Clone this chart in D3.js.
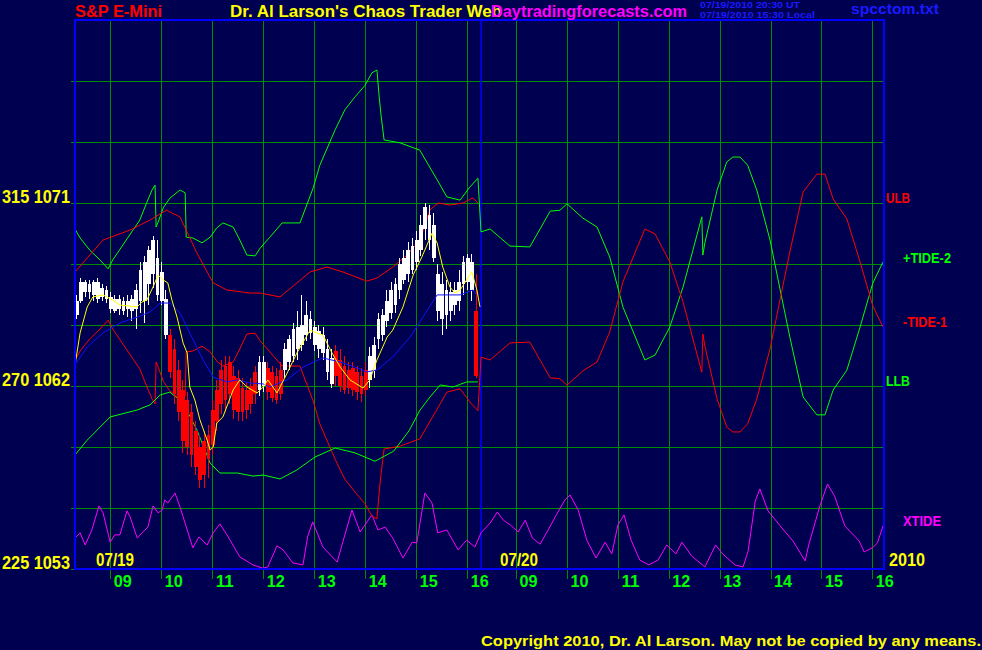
<!DOCTYPE html>
<html><head><meta charset="utf-8">
<script src="https://cdn.jsdelivr.net/npm/d3@7"></script>
<style>body{margin:0;background:#000050;}svg{display:block}</style>
</head><body>
<script>
// ---------------- DATA ----------------
const priceTicks = [1053, 1062, 1071];
const tideTicks = [225, 270, 315];
const gridPrices = [1056, 1059, 1062, 1065, 1068, 1071, 1074, 1077];
const hourTicks = [9, 10, 11, 12, 13, 14, 15, 16];
const hourLabels = ["09","10","11","12","13","14","15","16"];
const dayLabels = ["07/19", "07/20"];
const yearLabel = "2010";

// 5-minute bars, 07/19: [time, open, high, low, close, colour]
const bars = [
["08:20",1065.5,1066.5,1065.3,1066.2,"w"],["08:25",1066.2,1067.3,1066.1,1067.1,"w"],
["08:30",1066.6,1067.2,1066.4,1067.1,"w"],["08:35",1066.6,1067.2,1066.3,1067.0,"w"],
["08:40",1066.5,1067.2,1066.2,1067.1,"w"],["08:45",1066.3,1067.3,1066.1,1067.1,"w"],
["08:50",1066.4,1067.0,1066.2,1066.8,"w"],["08:55",1066.3,1066.9,1066.1,1066.7,"w"],
["09:00",1065.8,1066.6,1065.6,1066.4,"w"],["09:05",1065.7,1066.5,1065.6,1066.3,"w"],
["09:10",1065.8,1066.5,1065.5,1066.3,"w"],["09:15",1065.7,1066.4,1065.5,1066.2,"w"],
["09:20",1065.8,1066.5,1065.4,1066.2,"w"],["09:25",1065.7,1066.5,1065.2,1066.3,"w"],
["09:30",1065.8,1067.0,1064.8,1066.7,"w"],["09:35",1066.2,1068.1,1065.6,1067.7,"w"],
["09:40",1066.2,1068.4,1065.1,1068.1,"w"],["09:45",1067.0,1068.9,1066.0,1068.7,"w"],
["09:50",1067.5,1069.4,1066.8,1069.2,"w"],["09:55",1066.5,1069.2,1066.2,1068.3,"w"],
["10:00",1066.2,1068.1,1066.0,1067.6,"w"],["10:05",1064.5,1066.7,1064.3,1066.3,"w"],
["10:10",1064.5,1064.8,1062.4,1062.7,"r"],["10:15",1063.8,1064.3,1061.1,1061.6,"r"],
["10:20",1062.8,1063.3,1060.3,1060.7,"r"],["10:25",1061.8,1062.3,1058.7,1059.3,"r"],
["10:30",1061.3,1061.7,1058.6,1059.0,"r"],["10:35",1060.7,1061.1,1058.0,1058.6,"r"],
["10:40",1059.8,1060.3,1057.6,1058.0,"r"],["10:45",1059.0,1059.6,1057.0,1057.4,"r"],
["10:50",1059.3,1059.8,1057.0,1057.6,"r"],["10:55",1059.6,1060.1,1057.5,1058.4,"r"],
["11:00",1060.8,1061.3,1058.6,1059.1,"r"],["11:05",1061.8,1062.3,1059.8,1060.3,"r"],
["11:10",1062.8,1063.3,1060.6,1061.1,"r"],["11:15",1063.0,1063.5,1060.7,1061.3,"r"],
["11:20",1063.2,1063.5,1061.1,1061.6,"r"],["11:25",1062.5,1063.0,1060.4,1060.8,"r"],
["11:30",1062.4,1062.8,1060.3,1060.7,"r"],["11:35",1061.9,1062.4,1060.3,1060.7,"r"],
["11:40",1061.8,1062.2,1060.4,1060.8,"r"],["11:45",1062.0,1062.4,1060.6,1061.1,"r"],
["11:50",1062.7,1063.0,1061.1,1061.6,"r"],["11:55",1061.8,1063.5,1061.5,1063.2,"w"],
["12:00",1062.0,1063.5,1061.7,1063.2,"w"],["12:05",1062.9,1063.2,1061.3,1061.7,"r"],
["12:10",1062.7,1063.0,1061.2,1061.4,"r"],["12:15",1062.5,1062.9,1061.1,1061.3,"r"],
["12:20",1062.8,1063.2,1061.3,1061.6,"r"],["12:25",1062.8,1064.1,1062.4,1063.8,"w"],
["12:30",1063.2,1064.5,1062.8,1064.3,"w"],["12:35",1063.5,1065.1,1063.2,1064.8,"w"],
["12:40",1063.8,1065.7,1063.3,1064.9,"w"],["12:45",1064.0,1066.5,1063.7,1065.0,"w"],
["12:50",1064.5,1066.2,1064.2,1065.5,"w"],["12:55",1064.6,1065.7,1064.3,1065.3,"w"],
["13:00",1064.0,1065.2,1063.7,1064.9,"w"],["13:05",1063.8,1065.0,1063.4,1064.7,"w"],
["13:10",1063.6,1064.9,1063.3,1064.5,"w"],["13:15",1062.7,1064.3,1062.3,1063.8,"w"],
["13:20",1062.1,1063.8,1061.9,1063.4,"w"],["13:25",1063.7,1064.0,1062.0,1062.5,"r"],
["13:30",1063.3,1063.8,1061.7,1062.0,"r"],["13:35",1063.0,1063.5,1061.6,1061.8,"r"],
["13:40",1062.8,1063.2,1061.6,1061.9,"r"],["13:45",1062.9,1063.2,1061.5,1061.8,"r"],
["13:50",1062.7,1063.0,1061.3,1061.7,"r"],["13:55",1062.5,1062.9,1061.2,1061.6,"r"],
["14:00",1062.8,1063.2,1061.5,1061.8,"r"],["14:05",1062.3,1063.9,1061.9,1063.5,"w"],
["14:10",1062.8,1064.4,1062.4,1064.0,"w"],["14:15",1064.3,1065.6,1063.8,1065.3,"w"],
["14:20",1064.5,1065.8,1064.2,1065.5,"w"],["14:25",1065.2,1066.7,1064.9,1066.2,"w"],
["14:30",1065.6,1067.1,1065.3,1066.7,"w"],["14:35",1066.0,1067.3,1065.6,1067.0,"w"],
["14:40",1066.7,1068.3,1066.3,1068.0,"w"],["14:45",1067.2,1068.7,1067.0,1068.3,"w"],
["14:50",1067.5,1069.1,1067.1,1068.7,"w"],["14:55",1067.7,1069.3,1067.5,1068.9,"w"],
["15:00",1068.1,1069.6,1067.7,1069.2,"w"],["15:05",1068.7,1070.4,1068.4,1069.9,"w"],
["15:10",1069.7,1071.0,1069.2,1070.8,"w"],["15:15",1069.2,1070.9,1068.7,1070.4,"w"],
["15:20",1068.3,1070.5,1068.1,1069.9,"w"],["15:25",1065.7,1068.0,1065.2,1067.5,"w"],
["15:30",1065.3,1067.6,1064.5,1067.0,"w"],["15:35",1065.5,1067.2,1064.8,1066.7,"w"],
["15:40",1065.7,1067.1,1065.2,1066.6,"w"],["15:45",1066.0,1067.1,1065.5,1066.7,"w"],
["15:50",1066.2,1067.7,1065.7,1067.1,"w"],["15:55",1067.0,1068.4,1066.5,1068.1,"w"],
["16:00",1067.1,1068.5,1066.7,1068.3,"w"],["16:05",1066.7,1068.5,1066.2,1068.1,"w"],
["16:10",1065.7,1067.5,1062.4,1062.5,"r"]
];

// fast average (yellow), price units, [hour, value]
const fastAvg = [[8.30,1063.03],[8.40,1064.61],[8.54,1065.89],[8.65,1066.38],[8.85,1066.48],[9.04,1066.23],[9.18,1065.98],[9.52,1065.89],[9.61,1066.13],[9.71,1066.23],[9.83,1066.87],[9.93,1067.46],[10.03,1067.21],[10.12,1067.07],[10.20,1066.23],[10.30,1065.39],[10.42,1064.11],[10.50,1063.62],[10.55,1061.95],[10.65,1061.31],[10.75,1060.33],[10.89,1059.34],[10.95,1058.85],[11.01,1059.00],[11.08,1060.18],[11.20,1060.48],[11.40,1061.80],[11.53,1062.30],[11.67,1061.95],[11.87,1061.66],[11.99,1061.95],[12.08,1062.30],[12.26,1061.66],[12.46,1062.64],[12.65,1063.62],[12.91,1064.75],[13.04,1064.61],[13.16,1064.51],[13.34,1063.62],[13.50,1062.93],[13.69,1062.30],[13.95,1061.90],[14.08,1062.30],[14.22,1063.28],[14.42,1064.41],[14.53,1064.75],[14.73,1065.89],[14.93,1067.46],[15.10,1068.34],[15.30,1069.52],[15.40,1069.03],[15.51,1067.85],[15.65,1066.87],[15.75,1066.57],[15.85,1066.72],[15.95,1067.11],[16.08,1067.61],[16.18,1066.72],[16.24,1065.89]];

// slow average (blue)
const slowAvg = [[8.30,1063.03],[8.54,1063.92],[8.85,1064.61],[9.18,1065.10],[9.52,1065.39],[9.77,1065.64],[9.97,1066.08],[10.16,1066.08],[10.36,1065.59],[10.55,1064.61],[10.81,1063.28],[11.01,1062.44],[11.28,1062.20],[11.48,1062.30],[11.73,1062.15],[11.99,1062.10],[12.12,1061.95],[12.46,1062.30],[12.77,1062.93],[13.16,1063.38],[13.50,1063.18],[13.83,1062.89],[14.02,1062.69],[14.22,1062.79],[14.53,1063.43],[14.87,1064.41],[15.12,1065.39],[15.40,1066.48],[15.65,1066.48],[15.85,1066.48],[16.10,1066.72],[16.18,1066.48]];

// upper band (ULB, red)
const ulb = [[8.30,1067.61],[8.85,1069.18],[9.38,1069.67],[9.77,1070.16],[10.10,1070.66],[10.16,1070.56],[10.36,1070.31],[10.69,1068.54],[11.01,1067.07],[11.28,1066.72],[11.73,1066.57],[11.93,1066.57],[12.32,1066.38],[12.91,1067.61],[13.24,1067.85],[13.55,1067.61],[14.02,1067.16],[14.22,1067.31],[14.53,1067.85],[14.81,1068.44],[15.06,1069.18],[15.26,1070.66],[15.42,1071.00],[15.65,1070.90],[15.91,1071.00],[16.10,1071.25],[16.20,1071.00]];

// lower band (LLB, green)
const llb = [[8.30,1058.61],[8.54,1059.34],[8.99,1060.48],[9.52,1060.82],[9.77,1061.07],[9.97,1061.56],[10.16,1061.70],[10.42,1061.16],[10.69,1059.84],[10.95,1058.21],[11.14,1057.72],[11.48,1057.72],[11.79,1057.57],[11.99,1057.62],[12.32,1057.43],[12.65,1057.87],[13.00,1058.50],[13.40,1058.95],[13.79,1058.71],[14.18,1058.30],[14.55,1058.80],[14.85,1059.80],[15.06,1060.80],[15.26,1061.46],[15.46,1062.05],[15.71,1061.95],[15.98,1062.20],[16.20,1062.20]];

// +TIDE-2 (green), tide units; day 2 hours are 24 + clock hour
const tidePlus2 = [[8.30,308.6],[8.40,306.4],[8.59,303.4],[8.79,301.0],[8.95,298.8],[9.04,301.0],[9.24,304.7],[9.44,308.4],[9.57,310.8],[9.71,315.2],[9.81,318.2],[9.87,319.4],[9.89,309.1],[9.93,310.3],[10.03,313.8],[10.16,316.2],[10.36,318.2],[10.46,317.5],[10.48,306.6],[10.61,306.4],[10.79,305.2],[10.95,306.6],[11.08,308.9],[11.20,310.1],[11.40,309.1],[11.53,305.9],[11.67,302.2],[11.83,302.0],[11.93,303.9],[12.12,306.6],[12.36,310.1],[12.71,310.1],[12.97,318.7],[13.10,324.3],[13.40,333.0],[13.59,337.9],[13.79,341.1],[13.99,344.0],[14.12,347.0],[14.22,347.7],[14.26,341.6],[14.30,336.6],[14.36,330.5],[14.67,329.8],[15.06,328.0],[15.40,320.7],[15.59,316.5],[15.85,315.7],[16.04,318.9],[16.20,321.1],
[32.30,307.9],[32.48,308.6],[32.87,304.4],[33.26,304.2],[33.66,313.0],[33.85,313.2],[33.99,314.8],[34.30,311.3],[34.58,309.1],[34.83,301.7],[35.09,289.4],[35.52,276.4],[35.72,277.6],[36.01,284.5],[36.27,294.3],[36.64,311.6],[36.66,302.2],[36.70,305.2],[36.94,318.2],[37.13,325.1],[37.25,326.3],[37.39,326.3],[37.54,324.3],[37.72,318.2],[37.98,305.9],[38.18,293.6],[38.37,282.0],[38.63,267.3],[38.90,262.9],[39.06,262.9],[39.22,269.0],[39.49,273.9],[39.75,284.5],[40.00,295.3],[40.20,300.5]];

// -TIDE-1 (red)
const tideMinus1 = [[8.30,276.4],[8.40,278.6],[8.59,281.6],[8.79,284.0],[8.95,286.2],[9.04,284.0],[9.24,280.3],[9.44,276.6],[9.57,274.2],[9.71,269.8],[9.81,266.8],[9.87,265.6],[9.89,275.9],[9.93,274.7],[10.03,271.2],[10.16,268.8],[10.36,266.8],[10.46,267.5],[10.48,278.4],[10.61,278.6],[10.79,279.8],[10.95,278.4],[11.08,276.1],[11.20,274.9],[11.40,275.9],[11.53,279.1],[11.67,282.8],[11.83,283.0],[11.93,281.1],[12.12,278.4],[12.36,274.9],[12.71,274.9],[12.97,266.3],[13.10,260.7],[13.40,252.0],[13.59,247.1],[13.79,243.9],[13.99,241.0],[14.12,238.0],[14.22,237.3],[14.26,243.4],[14.30,248.4],[14.36,254.5],[14.67,255.2],[15.06,257.0],[15.40,264.3],[15.59,268.5],[15.85,269.3],[16.04,266.1],[16.20,263.9],
[32.30,277.1],[32.48,276.4],[32.87,280.6],[33.26,280.8],[33.66,272.0],[33.85,271.8],[33.99,270.2],[34.30,273.7],[34.58,275.9],[34.83,283.3],[35.09,295.6],[35.52,308.6],[35.72,307.4],[36.01,300.5],[36.27,290.7],[36.64,273.4],[36.66,282.8],[36.70,279.8],[36.94,266.8],[37.13,259.9],[37.25,258.7],[37.39,258.7],[37.54,260.7],[37.72,266.8],[37.98,279.1],[38.18,291.4],[38.37,303.0],[38.63,317.7],[38.90,322.1],[39.06,322.1],[39.22,316.0],[39.49,311.1],[39.75,300.5],[40.00,289.7],[40.20,284.5]];

// XTIDE (magenta)
const xtide = [[8.30,232.6],[8.40,233.9],[8.50,230.9],[8.63,234.6],[8.77,240.5],[8.85,238.8],[8.99,231.6],[9.08,233.4],[9.18,233.4],[9.32,239.3],[9.38,237.8],[9.52,232.6],[9.63,234.1],[9.73,235.3],[9.83,240.5],[9.93,238.8],[10.01,239.5],[10.06,242.0],[10.12,241.2],[10.26,243.7],[10.36,240.2],[10.61,230.2],[10.73,232.9],[10.89,230.9],[11.01,233.9],[11.14,236.1],[11.28,233.4],[11.53,228.0],[11.79,226.0],[11.98,225.2],[12.08,225.5],[12.26,230.7],[12.38,229.7],[12.57,226.5],[12.77,226.0],[12.86,232.9],[12.96,236.6],[13.16,230.4],[13.44,226.7],[13.55,231.6],[13.73,239.5],[13.89,234.1],[14.12,238.3],[14.24,234.6],[14.38,235.3],[14.53,232.6],[14.73,227.7],[14.91,231.6],[15.00,231.4],[15.16,243.7],[15.30,241.2],[15.41,233.9],[15.59,234.6],[15.81,229.7],[15.98,232.1],[16.14,230.4],
[32.30,233.9],[32.48,236.3],[32.62,239.0],[32.74,237.0],[32.88,235.8],[33.03,234.1],[33.17,237.0],[33.31,232.6],[33.46,231.1],[33.62,234.6],[33.78,238.3],[33.95,242.0],[34.05,243.2],[34.21,239.5],[34.38,232.1],[34.56,227.7],[34.74,231.6],[34.87,228.7],[34.99,235.8],[35.11,238.3],[35.25,232.1],[35.42,227.2],[35.60,226.0],[35.78,227.2],[35.95,230.9],[36.13,228.7],[36.25,231.6],[36.44,228.2],[36.70,225.5],[36.91,230.9],[37.05,228.7],[37.29,226.0],[37.45,225.5],[37.55,229.4],[37.69,241.7],[37.78,244.7],[37.94,239.3],[38.18,235.6],[38.43,231.9],[38.67,227.0],[38.74,230.9],[38.96,240.5],[39.11,245.9],[39.25,242.9],[39.45,235.6],[39.73,231.9],[39.83,229.2],[39.99,230.2],[40.09,231.4],[40.22,236.3]];

// ---------------- DRAWING ----------------
const W = 982, H = 650;
const svg = d3.select("body").append("svg").attr("width", W).attr("height", H);
svg.append("rect").attr("width", W).attr("height", H).attr("fill", "#000050");

const L = 75, R = 884, T = 20, B = 569;
const x = d3.scaleLinear().domain([8.3, 16.25, 32.3, 40.22]).range([L, 480.5, 481, R]);
const yP = d3.scaleLinear().domain([1053, 1080]).range([B, T]);
const yT = d3.scaleLinear().domain([225, 360]).range([B, T]);
const FONT = "'Liberation Sans', Arial, Helvetica, sans-serif";

function txt(px, py, s, fill, size, len, anchor) {
  const t = svg.append("text").attr("x", px).attr("y", py).text(s)
    .attr("fill", fill).attr("font-family", FONT).attr("font-size", size)
    .attr("font-weight", "bold").attr("text-anchor", anchor || "start");
  if (len) t.attr("textLength", len).attr("lengthAdjust", "spacingAndGlyphs");
  return t;
}

// grid
const grid = svg.append("g").attr("stroke", "#008c00").attr("stroke-width", 1).attr("shape-rendering", "crispEdges");
gridPrices.forEach(p => grid.append("line").attr("x1", L - 4).attr("x2", R).attr("y1", yP(p)).attr("y2", yP(p)));
grid.append("line").attr("x1", L - 4).attr("x2", L).attr("y1", B).attr("y2", B);
[0, 24].forEach(off => hourTicks.forEach(h => {
  grid.append("line").attr("x1", x(h + off)).attr("x2", x(h + off)).attr("y1", T).attr("y2", B + 10);
}));

// day separator
svg.append("line").attr("x1", x(16.25) + 0.5).attr("x2", x(16.25) + 0.5).attr("y1", T).attr("y2", B)
  .attr("stroke", "#0000ff").attr("stroke-width", 1.5);

const lineP = d3.line().x(d => x(d[0])).y(d => yP(d[1]));
const lineT = d3.line().x(d => x(d[0])).y(d => yT(d[1]));
function path(data, gen, color, w) {
  svg.append("path").attr("d", gen(data)).attr("fill", "none").attr("stroke", color)
    .attr("stroke-width", w || 1).attr("stroke-linejoin", "round");
}

path(xtide, lineT, "#ff00ff");
path(tidePlus2, lineT, "#00ff00");
path(tideMinus1, lineT, "#ff0000");
path(ulb, lineP, "#ff0000");
path(llb, lineP, "#00ff00");

// bars
const hr = s => { const [a, b] = s.split(":"); return +a + b / 60; };
const bg = svg.append("g").attr("shape-rendering", "crispEdges");
bars.forEach(b => {
  const [t, o, hi, lo, c, col] = b;
  const cx = x(hr(t));
  const color = col === "w" ? "#ffffff" : "#ff0000";
  bg.append("line").attr("x1", cx).attr("x2", cx).attr("y1", yP(hi)).attr("y2", yP(lo))
    .attr("stroke", color).attr("stroke-width", 1);
  const top = yP(Math.max(o, c)), bot = yP(Math.min(o, c));
  bg.append("rect").attr("x", cx - 1.8).attr("width", 3.6).attr("y", top)
    .attr("height", Math.max(1, bot - top)).attr("fill", color);
});

path(slowAvg, lineP, "#1010ff");
path(fastAvg, lineP, "#ffff00");

// frame
svg.append("rect").attr("x", L).attr("y", T).attr("width", R - L).attr("height", B - T)
  .attr("fill", "none").attr("stroke", "#0000ff").attr("stroke-width", 2);

// hour labels
[0, 24].forEach(off => hourTicks.forEach((h, i) => {
  txt(x(h + off) + 3, 587, hourLabels[i], "#00ff00", 17, 18);
}));

// left scale labels
priceTicks.forEach((p, i) => {
  txt(2, yP(p), tideTicks[i] + " " + p, "#ffff00", 19, 68);
});

// date labels
txt(x(8.3) + 21, 566, dayLabels[0], "#ffff00", 18, 38);
txt(x(32.3) + 19, 566, dayLabels[1], "#ffff00", 18, 38);
txt(889, 566, yearLabel, "#ffff00", 18, 36);

// series labels at final values
txt(886, yP(ulb[ulb.length - 1][1]), "ULB", "#ff0000", 15, 24);
txt(903, yT(tidePlus2[tidePlus2.length - 1][1]) + 1, "+TIDE-2", "#00ff00", 15, 48);
txt(903, yT(tideMinus1[tideMinus1.length - 1][1]), "-TIDE-1", "#ff0000", 15, 44);
txt(886, yP(llb[llb.length - 1][1]) + 4, "LLB", "#00ff00", 15, 24);
txt(903, yT(xtide[xtide.length - 1][1]) + 3, "XTIDE", "#ff00ff", 15, 38);

// header
txt(75, 17, "S&P E-Mini", "#ff0000", 16, 87);
txt(230, 17, "Dr. Al Larson's Chaos Trader Web", "#ffff00", 16, 272);
txt(491, 17, "Daytradingforecasts.com", "#ff00ff", 16, 196);
txt(700, 8, "07/19/2010 20:30 UT", "#1a1aff", 9, 100);
txt(700, 18, "07/19/2010 15:30 Local", "#1a1aff", 9, 115);
txt(851, 14, "spcctom.txt", "#1a1aff", 15, 88);
txt(481, 646, "Copyright 2010, Dr. Al Larson. May not be copied by any means.", "#ffff00", 15, 500);
</script>
</body></html>
